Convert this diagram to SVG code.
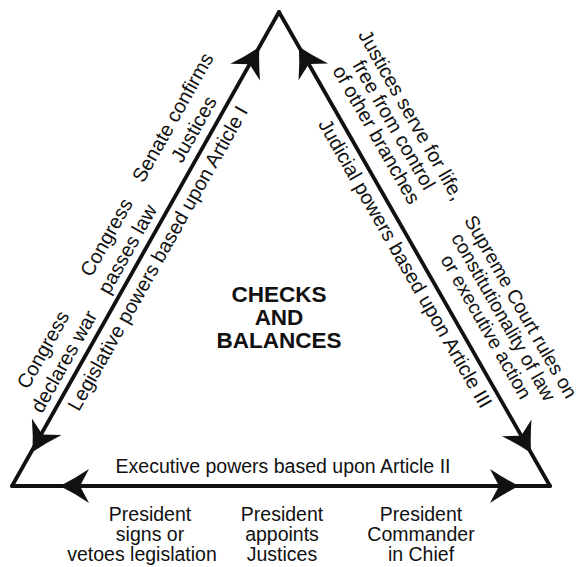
<svg xmlns="http://www.w3.org/2000/svg" width="583" height="567" viewBox="0 0 583 567">
<style>
text { font-family: "Liberation Sans", Arial, Helvetica, sans-serif; fill: #111; }
.lbl { font-size: 20px; text-anchor: middle; }
.lbs { font-size: 19.5px; text-anchor: middle; }
.bot { font-size: 19.5px; text-anchor: middle; }
.title { font-size: 22.5px; font-weight: bold; text-anchor: middle; }
.edge { stroke: #111; stroke-width: 3.8; fill: none; stroke-linecap: round; }
.head { fill: #111; }
</style>
<defs>
<path id="ah" class="head" d="M0,0 Q-14,-7 -29,-17 L-20,0 L-29,17 Q-14,7 0,0 Z"/>
</defs>
<rect width="583" height="567" fill="#fff"/>
<g id="connectors">
  <line class="edge" x1="12" y1="486" x2="279" y2="12"/>
  <line class="edge" x1="279" y1="12" x2="550" y2="486"/>
  <line class="edge" x1="12" y1="486" x2="550" y2="486"/>
  <use href="#ah" transform="translate(259.4,46.9) rotate(-60.6)"/>
  <use href="#ah" transform="translate(32.5,452) rotate(119.4)"/>
  <use href="#ah" transform="translate(298.9,46.7) rotate(-119.76)"/>
  <use href="#ah" transform="translate(531.1,453) rotate(60.24)"/>
  <use href="#ah" transform="translate(60,486) rotate(180)"/>
  <use href="#ah" transform="translate(519,486)"/>
</g>
<g id="center-title">
  <text class="title" x="279" y="302">CHECKS</text>
  <text class="title" x="279" y="325">AND</text>
  <text class="title" x="279" y="348">BALANCES</text>
</g>
<g id="legislative" transform="translate(12,486) rotate(-60.6)">
  <text class="lbl" x="270" y="22">Legislative powers based upon Article I</text>
</g>
<g id="congress-war" transform="translate(12,486) rotate(-60.6)">
  <text class="lbl" x="134" y="-33">Congress</text>
  <text class="lbl" x="134" y="-9">declares war</text>
</g>
<g id="congress-law" transform="translate(12,486) rotate(-60.6)">
  <text class="lbl" x="263" y="-33">Congress</text>
  <text class="lbl" x="263" y="-9">passes law</text>
</g>
<g id="senate" transform="translate(12,486) rotate(-60.6)">
  <text class="lbl" x="400" y="-34">Senate confirms</text>
  <text class="lbl" x="400" y="-10">Justices</text>
</g>
<g id="judicial" transform="translate(279,12) rotate(60.24)">
  <text class="lbl" x="281" y="22">Judicial powers based upon Article III</text>
</g>
<g id="justices-life" transform="translate(279,12) rotate(60.24)">
  <text class="lbl" x="155" y="-57">Justices serve for life,</text>
  <text class="lbl" x="155" y="-37">free from control</text>
  <text class="lbl" x="155" y="-17">of other branches</text>
</g>
<g id="supreme-court" transform="translate(279,12) rotate(60.24)">
  <text class="lbs" x="376" y="-57">Supreme Court rules on</text>
  <text class="lbs" x="376" y="-37">constitutionality of law</text>
  <text class="lbs" x="376" y="-17">or executive action</text>
</g>
<g id="executive">
  <text class="bot" x="283" y="473">Executive powers based upon Article II</text>
</g>
<g id="president-signs">
  <text class="bot" x="150" y="521">President</text>
  <text class="bot" x="150" y="541">signs or</text>
  <text class="bot" x="142" y="561">vetoes legislation</text>
</g>
<g id="president-appoints">
  <text class="bot" x="282" y="521">President</text>
  <text class="bot" x="282" y="541">appoints</text>
  <text class="bot" x="282" y="561">Justices</text>
</g>
<g id="president-commander">
  <text class="bot" x="421" y="521">President</text>
  <text class="bot" x="421" y="541">Commander</text>
  <text class="bot" x="421" y="561">in Chief</text>
</g>
</svg>
